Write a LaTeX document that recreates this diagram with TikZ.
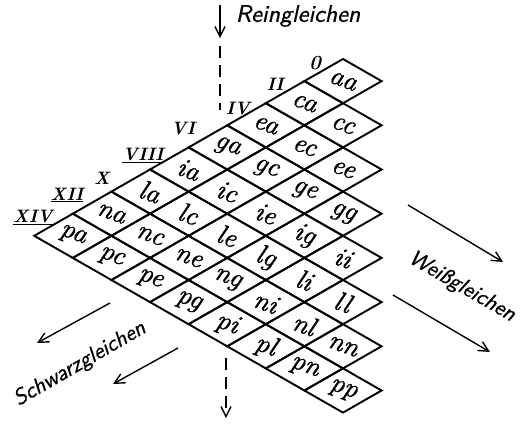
\documentclass[tikz,border=0pt]{standalone}
\usepackage{fontspec}
\newfontfamily\pairfont{lmroman10-italic.otf}[FakeBold=1.2]
\newfontfamily\dirfont{lmsans10-oblique.otf}[FakeBold=0.8]
\newfontfamily\numfont{lmroman10-bolditalic.otf}
\usetikzlibrary{arrows.meta}
\tikzset{
  cell/.style={line width=1.9pt,line join=miter},
  pair/.style={font=\fontsize{27}{27}\selectfont\pairfont,rotate=-20,inner sep=0pt},
  rnum/.style={font=\fontsize{18}{18}\selectfont\numfont,inner sep=0pt},
  dirlabel/.style={font=\fontsize{22}{22}\selectfont\dirfont,inner sep=0pt},
  dirarrow/.style={line width=1.4pt,-{Straight Barb[length=10pt,width=10pt]}},
  dashline/.style={line width=1.4pt,dash pattern=on 12pt off 7pt},
}

\begin{document}
\begin{tikzpicture}[x=1pt,y=-1pt]
  \useasboundingbox (0,0) rectangle (523,424);
  % the lattice of pairs
  \foreach \i/\r in {0/a,1/c,2/e,3/g,4/i,5/l,6/n,7/p}{
    \foreach \j/\s in {0/a,1/c,2/e,3/g,4/i,5/l,6/n,7/p}{
      \ifnum\j>\i\else
        \coordinate (c\i\j) at (343+38.6*\j-38.6*\i, 81.1+22.1*\i+22.1*\j);
        \draw[cell] (c\i\j) ++(0,-22.1) -- ++(38.6,22.1) -- ++(-38.6,22.1) -- ++(-38.6,-22.1) -- cycle;
        \node[pair] (t\r\s) at (c\i\j) {\r\s};
      \fi
    }
  }
  % row numbers
  \foreach \x/\y/\n/\lbl in {
    315/63/0/{\fontsize{20}{20}\selectfont 0},
    275/84/1/II,
    238/108/2/IV,
    183/128/3/VI,
    143/155/4/\underline{VIII},
    102/178/5/X,
    67/195/6/\underline{XII},
    33/217/7/\underline{XIV}}{
    \node[rnum] (n\n) at (\x,\y) {\lbl};
  }
  % Reingleichen
  \coordinate (rtop) at (220,5);
  \coordinate (rtip) at (220,38);
  \coordinate (rd1) at (220,46);
  \coordinate (rd2) at (220,110);
  \draw[dirarrow] (rtop) -- (rtip);
  \draw[dashline] (rd1) -- (rd2);
  \node[dirlabel,font=\fontsize{24}{24}\selectfont\dirfont] (rein) at (298,16) {Reingleichen};
  \coordinate (bd1) at (226,358);
  \coordinate (bd2) at (226,418);
  \draw[dirarrow,dashline] (bd1) -- (bd2);
  % Weissgleichen
  \coordinate (w1s) at (408,205);
  \coordinate (w1e) at (503,262);
  \coordinate (w2s) at (393,295);
  \coordinate (w2e) at (490,352);
  \draw[dirarrow] (w1s) -- (w1e);
  \draw[dirarrow] (w2s) -- (w2e);
  \node[dirlabel,rotate=-30] (weiss) at (462,287) {Weißgleichen};
  % Schwarzgleichen
  \coordinate (s1s) at (110,303);
  \coordinate (s1e) at (37,343);
  \coordinate (s2s) at (178,348);
  \coordinate (s2e) at (113,384);
  \draw[dirarrow] (s1s) -- (s1e);
  \draw[dirarrow] (s2s) -- (s2e);
  \node[dirlabel,rotate=30] (schwarz) at (80,364) {Schwarzgleichen};
\end{tikzpicture}
\end{document}
